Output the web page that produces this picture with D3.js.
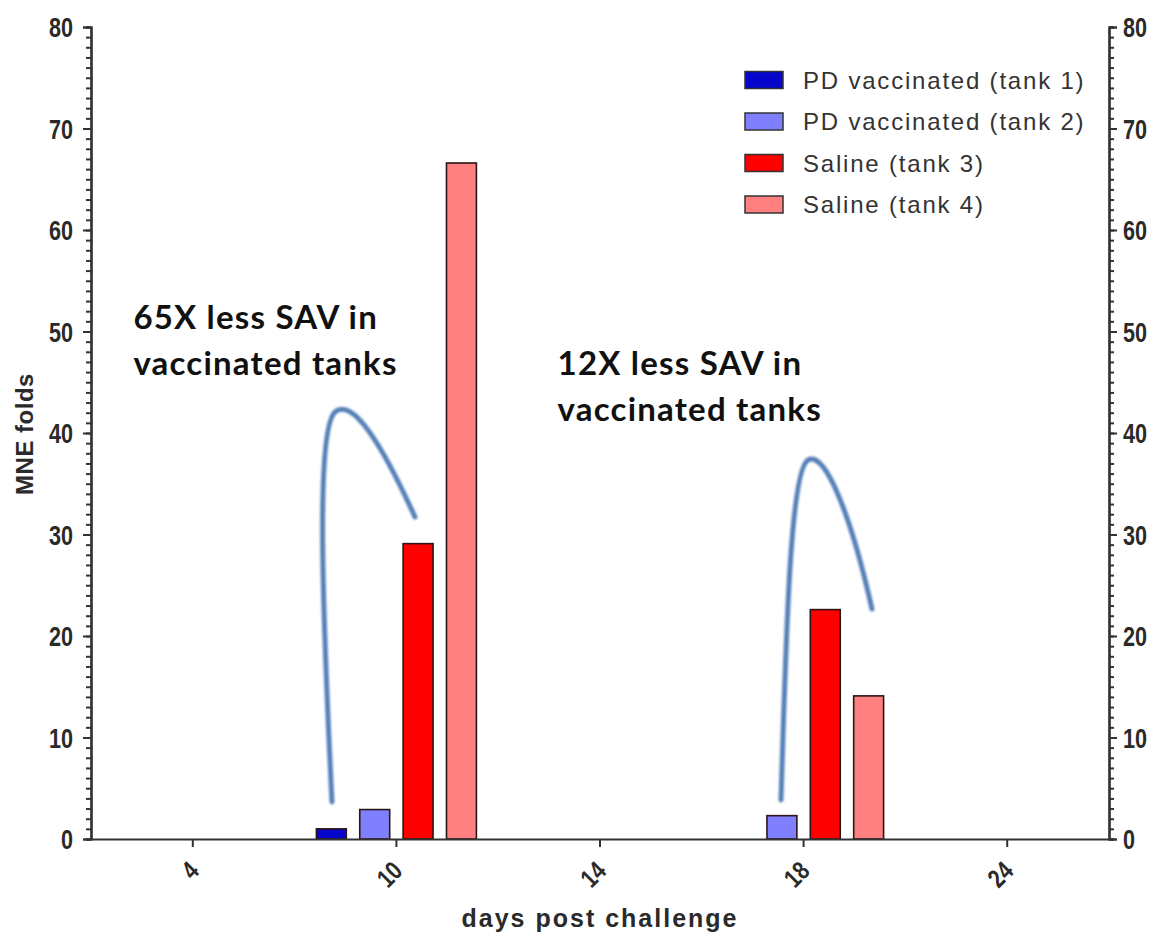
<!DOCTYPE html>
<html><head><meta charset="utf-8">
<script src="https://cdn.jsdelivr.net/npm/d3@7"></script>
<style>body{margin:0;background:#fff}</style>
</head><body>
<svg id="c" width="1153" height="936"></svg>
<script>
const days = ["4", "10", "14", "18", "24"];
const seriesNames = ["PD vaccinated (tank 1)", "PD vaccinated (tank 2)", "Saline (tank 3)", "Saline (tank 4)"];
const seriesColors = ["#0606cc", "#8080ff", "#ff0000", "#ff8080"];
const tank1 = [0, 1.0, 0, 0, 0];
const tank2 = [0, 2.9, 0, 2.3, 0];
const tank3 = [0, 29.1, 0, 22.6, 0];
const tank4 = [0, 66.6, 0, 14.1, 0];
const yTicks = [0, 10, 20, 30, 40, 50, 60, 70, 80];
const annotations = [
  {lines: ["65X less SAV in", "vaccinated tanks"], day: "10", dx: -263, y: 329},
  {lines: ["12X less SAV in", "vaccinated tanks"], day: "18", dx: -246, y: 375}
];

const series = [tank1, tank2, tank3, tank4];
const svg = d3.select("#c");
const L = 91, R = 1109, T = 27, B = 839;

const x = d3.scaleBand().domain(days).range([L, R]).padding(0);
const xi = d3.scaleBand().domain(d3.range(4)).range([-80, 80]).paddingInner(0.31).paddingOuter(0);
const y = d3.scaleLinear().domain([0, 80]).range([B, T]);

const tickFont = "'Liberation Sans',Arial,sans-serif";
const SX = 0.8;

// bars
series.forEach((vals, s) => {
  svg.append("g").selectAll("rect")
    .data(days.map((d, i) => ({d, v: vals[i]})).filter(o => o.v > 0))
    .join("rect")
    .attr("x", o => x(o.d) + x.bandwidth() / 2 + xi(s))
    .attr("width", xi.bandwidth())
    .attr("y", o => y(o.v))
    .attr("height", o => y(0) - y(o.v))
    .attr("fill", seriesColors[s])
    .attr("stroke", "#2b1515")
    .attr("stroke-width", 1.6);
});

// axes
function styleAxis(g) {
  g.select(".domain").attr("stroke", "#333").attr("stroke-width", 2.2);
  g.selectAll(".tick line").attr("stroke", "#333").attr("stroke-width", 2);
}
function styleText(sel) {
  sel.attr("font-family", tickFont).attr("font-weight", "bold").attr("font-size", 27).attr("fill", "#2a2a2a");
}
const minor = d3.range(0, 81, 1);
const yl = svg.append("g").attr("transform", `translate(${L},0)`);
yl.call(d3.axisLeft(y).tickValues(minor).tickSize(5).tickFormat(""));
yl.call(g => g.selectAll(".tick line").attr("stroke", "#333").attr("stroke-width", 2));
yl.append("g").call(d3.axisLeft(y).tickValues(yTicks).tickSize(8).tickPadding(6))
  .call(styleAxis)
  .call(g => g.selectAll("text").call(styleText)
    .attr("x", -18 / SX).attr("dy", "0.36em").attr("transform", `scale(${SX},1)`));
styleAxis(yl);

const yr = svg.append("g").attr("transform", `translate(${R},0)`);
yr.call(d3.axisRight(y).tickValues(minor).tickSize(5).tickFormat(""));
yr.call(g => g.selectAll(".tick line").attr("stroke", "#333").attr("stroke-width", 2));
yr.append("g").call(d3.axisRight(y).tickValues(yTicks).tickSize(8).tickPadding(4))
  .call(styleAxis)
  .call(g => g.selectAll("text").call(styleText)
    .attr("x", 14 / SX).attr("dy", "0.36em").attr("transform", `scale(${SX},1)`));
styleAxis(yr);

const xa = svg.append("g").attr("transform", `translate(0,${B})`)
  .call(d3.axisBottom(x).tickSize(8).tickSizeOuter(0).tickPadding(14))
  .call(styleAxis);
xa.selectAll("text").call(styleText)
  .attr("font-size", 26)
  .attr("x", 0).attr("y", 0).attr("text-anchor", "end").attr("dy", "0.36em")
  .attr("transform", `translate(1,27) rotate(-45) scale(${SX},1)`);

// axis titles
svg.append("text").attr("x", 600).attr("y", 927).attr("text-anchor", "middle")
  .attr("font-family", "'Liberation Sans',Arial,sans-serif").attr("font-weight", "bold")
  .attr("font-size", 25).attr("letter-spacing", 2).attr("fill", "#2a2a2a").text("days post challenge");
svg.append("text").attr("transform", "translate(33,434) rotate(-90)").attr("text-anchor", "middle")
  .attr("font-family", "'Liberation Sans',Arial,sans-serif").attr("font-weight", "bold")
  .attr("font-size", 24).attr("letter-spacing", 0.5).attr("fill", "#2a2a2a").text("MNE folds");

// legend
const lg = svg.append("g");
seriesNames.forEach((n, i) => {
  const yy = 80 + i * 41.5;
  lg.append("rect").attr("x", 745).attr("y", yy - 8.5).attr("width", 38).attr("height", 17)
    .attr("fill", seriesColors[i]).attr("stroke", "#333").attr("stroke-width", 1.5);
  lg.append("text").attr("x", 803).attr("y", yy).attr("dy", "0.36em")
    .attr("font-family", "'Liberation Sans',Arial,sans-serif").attr("font-size", 24)
    .attr("letter-spacing", 1.8).attr("fill", "#333").text(n);
});

// annotations
annotations.forEach(a => {
  const cx = x(a.day) + x.bandwidth() / 2 + a.dx;
  a.lines.forEach((t, k) => {
    svg.append("text").attr("x", cx).attr("y", a.y + k * 46).attr("text-anchor", "start")
      .attr("font-family", "Lato,'Open Sans',sans-serif").attr("font-weight", "bold")
      .attr("font-size", 33).attr("letter-spacing", 1.2).attr("fill", "#111").text(t);
  });
});

// curved arrows (hand-drawn connectors)
const defs = svg.append("defs");
defs.append("filter").attr("id", "blur").append("feGaussianBlur").attr("stdDeviation", 0.8);
const curves = [
  "M332,802 C322,600 316,430 335,412 C352,398 380,440 415,517",
  "M781,800 C786,640 790,470 808,460 C826,450 852,520 872,609"
];
svg.append("g").selectAll("path").data(curves).join("path")
  .attr("d", d => d).attr("fill", "none").attr("stroke", "#5580b8")
  .attr("stroke-width", 5).attr("stroke-linecap", "round").attr("filter", "url(#blur)");
</script>
</body></html>
